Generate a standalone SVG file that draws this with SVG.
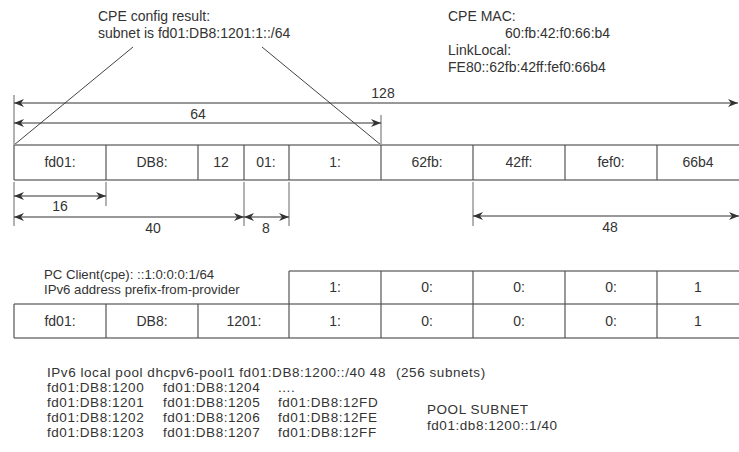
<svg xmlns="http://www.w3.org/2000/svg" width="739" height="452" viewBox="0 0 739 452">
<defs>
<marker id="ah" viewBox="0 0 10 8" refX="10" refY="4" markerWidth="10" markerHeight="8" markerUnits="userSpaceOnUse" orient="auto-start-reverse">
<path d="M0,0 L10,4 L0,8 L3,4 Z" fill="#333"/>
</marker>
</defs>
<style>
text{font-family:"Liberation Sans",Arial,sans-serif;font-size:14px;fill:#333}
.c{text-anchor:middle}
.pc{font-size:13.2px}
.pl{font-size:13.5px;letter-spacing:0.55px}
.ln{stroke:#444;stroke-width:1;fill:none}
.tk{stroke:#666;stroke-width:1;fill:none}
.hb{stroke:#999;stroke-width:2;fill:none}
.vb{stroke:#555;stroke-width:1.2;fill:none}
.ar{stroke:#333;stroke-width:1;fill:none;marker-start:url(#ah);marker-end:url(#ah)}
</style>
<rect width="739" height="452" fill="#fff"/>

<g id="labels-top">
<text x="98" y="21">CPE config result:</text>
<text x="98" y="38">subnet is fd01:DB8:1201:1::/64</text>
<text x="448" y="21">CPE MAC:</text>
<text x="505" y="38">60:fb:42:f0:66:b4</text>
<text x="448" y="55">LinkLocal:</text>
<text x="448" y="72">FE80::62fb:42ff:fef0:66b4</text>
</g>

<g id="connectors">
<line class="ln" x1="14" y1="145" x2="133" y2="47"/>
<line class="ln" x1="262" y1="47" x2="381" y2="145"/>
<line class="tk" x1="14" y1="95" x2="14" y2="145"/>
<line class="tk" x1="381" y1="115" x2="381" y2="145"/>
<line class="ar" x1="14" y1="103" x2="738" y2="103"/>
<line class="ar" x1="14" y1="123" x2="381" y2="123"/>
<line class="tk" x1="14" y1="182" x2="14" y2="226"/>
<line class="tk" x1="106" y1="182" x2="106" y2="206"/>
<line class="tk" x1="244" y1="182" x2="244" y2="226" stroke="#999"/>
<line class="tk" x1="289" y1="182" x2="289" y2="226" stroke="#999"/>
<line class="tk" x1="473" y1="182" x2="473" y2="226"/>
<line class="ar" x1="14" y1="196" x2="106" y2="196"/>
<line class="ar" x1="14" y1="217" x2="244" y2="217"/>
<line class="ar" x1="244" y1="217" x2="289" y2="217"/>
<line class="ar" x1="473" y1="216" x2="739" y2="216"/>
</g>

<g id="dim-labels">
<text class="c" x="383" y="98">128</text>
<text class="c" x="198" y="119">64</text>
<text class="c" x="60" y="211">16</text>
<text class="c" x="153" y="233">40</text>
<text class="c" x="266" y="233">8</text>
<text class="c" x="610" y="232">48</text>
</g>

<g id="table-address">
<line class="hb" x1="14" y1="145" x2="739" y2="145"/>
<line class="hb" x1="14" y1="180" x2="739" y2="180"/>
<path class="vb" d="M14,145V180M106,145V180M198,145V180M244,145V180M289,145V180M381,145V180M473,145V180M565,145V180M657,145V180"/>
<text class="c" x="60" y="167">fd01:</text>
<text class="c" x="152" y="167">DB8:</text>
<text class="c" x="221" y="167">12</text>
<text class="c" x="266" y="167">01:</text>
<text class="c" x="335" y="167">1:</text>
<text class="c" x="427" y="167">62fb:</text>
<text class="c" x="519" y="167">42ff:</text>
<text class="c" x="611" y="167">fef0:</text>
<text class="c" x="698" y="167">66b4</text>
</g>

<g id="pc-client">
<text class="pc" x="44" y="279">PC Client(cpe): ::1:0:0:0:1/64</text>
<text class="pc" x="44" y="294">IPv6 address prefix-from-provider</text>
</g>

<g id="table-client">
<line class="hb" x1="289" y1="271" x2="739" y2="271"/>
<line class="hb" x1="14" y1="304" x2="739" y2="304"/>
<line class="hb" x1="14" y1="338" x2="739" y2="338"/>
<path class="vb" d="M289,271V338M381,271V338M473,271V338M565,271V338M657,271V338M14,304V338M106,304V338M198,304V338"/>
<text class="c" x="335" y="292">1:</text>
<text class="c" x="427" y="292">0:</text>
<text class="c" x="519" y="292">0:</text>
<text class="c" x="611" y="292">0:</text>
<text class="c" x="698" y="292">1</text>
<text class="c" x="60" y="326">fd01:</text>
<text class="c" x="152" y="326">DB8:</text>
<text class="c" x="244" y="326">1201:</text>
<text class="c" x="335" y="326">1:</text>
<text class="c" x="427" y="326">0:</text>
<text class="c" x="519" y="326">0:</text>
<text class="c" x="611" y="326">0:</text>
<text class="c" x="698" y="326">1</text>
</g>

<g id="pool">
<text class="pl" x="47" y="377">IPv6 local pool dhcpv6-pool1 fd01:DB8:1200::/40 48<tspan x="396">(256 subnets)</tspan></text>
<text class="pl" x="47" y="392">fd01:DB8:1200</text>
<text class="pl" x="163" y="392">fd01:DB8:1204</text>
<text class="pl" x="278" y="392">....</text>
<text class="pl" x="47" y="407">fd01:DB8:1201</text>
<text class="pl" x="163" y="407">fd01:DB8:1205</text>
<text class="pl" x="278" y="407">fd01:DB8:12FD</text>
<text class="pl" x="47" y="422">fd01:DB8:1202</text>
<text class="pl" x="163" y="422">fd01:DB8:1206</text>
<text class="pl" x="278" y="422">fd01:DB8:12FE</text>
<text class="pl" x="47" y="437">fd01:DB8:1203</text>
<text class="pl" x="163" y="437">fd01:DB8:1207</text>
<text class="pl" x="278" y="437">fd01:DB8:12FF</text>
<text class="pl" x="427" y="414">POOL SUBNET</text>
<text class="pl" x="427" y="430">fd01:db8:1200::1/40</text>
</g>
</svg>
